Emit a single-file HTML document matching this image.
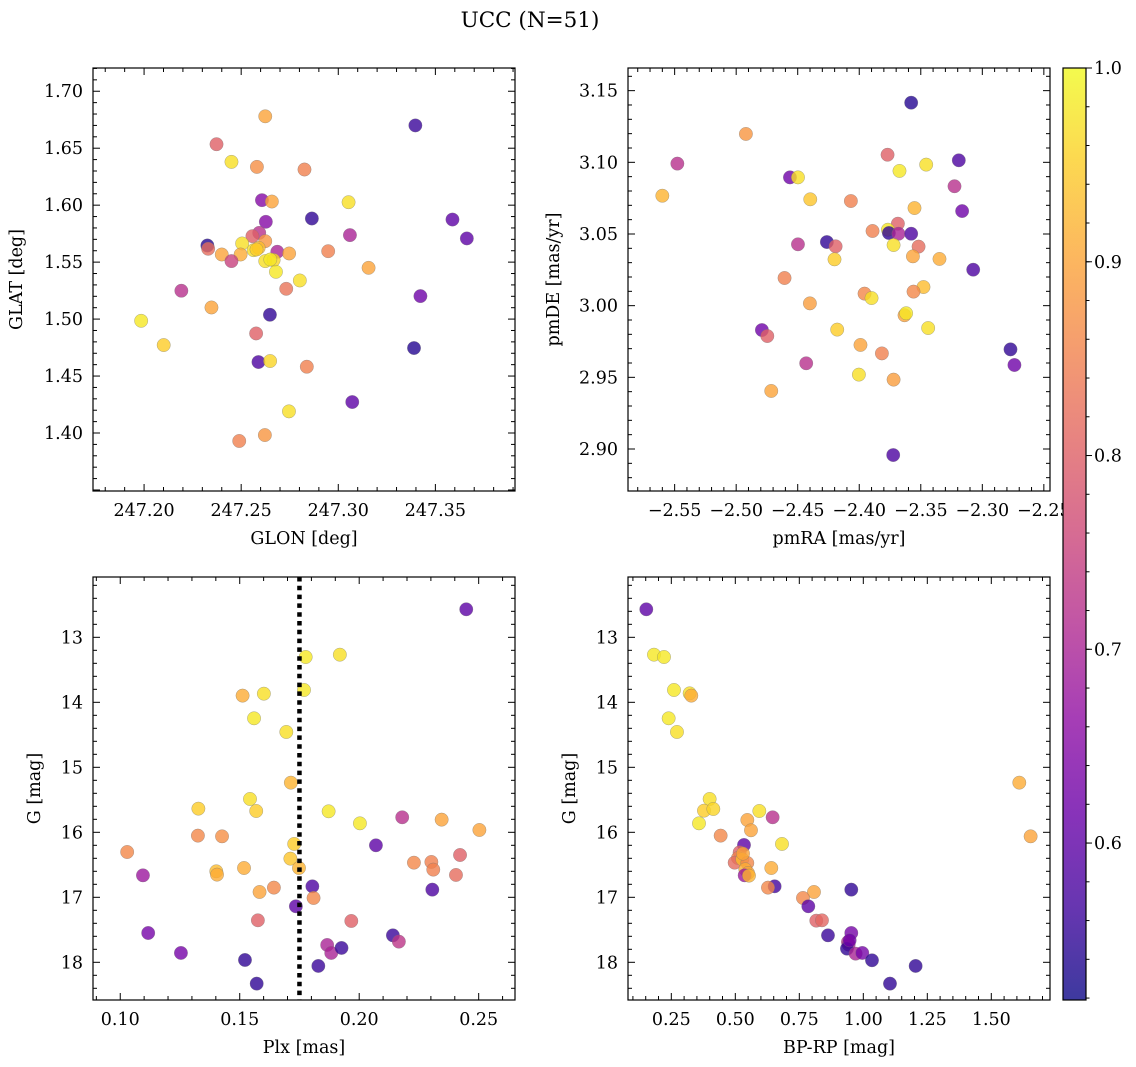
<!DOCTYPE html>
<html><head><meta charset="utf-8"><style>
html,body{margin:0;padding:0;background:#fff;}
svg{display:block;font-family:"DejaVu Serif","Liberation Serif",serif;}
</style></head><body>
<svg id="fig" width="1136" height="1067" viewBox="0 0 1136 1067" xmlns="http://www.w3.org/2000/svg">
<rect width="1136" height="1067" fill="#fff"/>
<text x="530" y="27" font-size="21.5" text-anchor="middle">UCC (N=51)</text>
</svg>
<script>
// Panel 1: GLON vs GLAT
const glon = [247.2624,247.3397,247.2373,247.2450,247.2581,247.2826,247.2607,247.2658,247.3053,247.2864,247.3588,247.2627,247.3662,247.3060,247.2326,247.2330,247.2593,247.2558,247.2624,247.2505,247.2564,247.2590,247.2686,247.2747,247.2400,247.2497,247.2450,247.2624,247.2667,247.2679,247.2948,247.3156,247.2802,247.2732,247.2192,247.3423,247.2347,247.2648,247.1985,247.2577,247.2101,247.3390,247.2589,247.2649,247.2838,247.3072,247.2746,247.2622,247.2490,247.2579,247.2650];
const glat = [1.678,1.670,1.6535,1.638,1.6336,1.6313,1.6044,1.6032,1.6026,1.5883,1.5874,1.5854,1.5708,1.5737,1.5646,1.5617,1.5757,1.5728,1.5684,1.5664,1.5605,1.5626,1.5591,1.5576,1.5567,1.5567,1.5509,1.5509,1.5518,1.5415,1.5596,1.545,1.5339,1.5266,1.5249,1.5202,1.5102,1.5038,1.4985,1.4874,1.4772,1.4746,1.4623,1.4632,1.4582,1.4272,1.419,1.3982,1.393,1.5611,1.5523];
const prob1 = [0.9,0.56,0.8,0.97,0.87,0.85,0.65,0.9,0.97,0.55,0.6,0.65,0.6,0.7,0.54,0.82,0.72,0.8,0.88,0.97,0.97,0.93,0.7,0.9,0.9,0.91,0.75,0.97,0.96,0.98,0.85,0.9,0.97,0.83,0.72,0.62,0.9,0.55,0.98,0.8,0.95,0.54,0.58,0.96,0.85,0.6,0.97,0.88,0.85,0.95,0.98];
// Panel 2: pmRA vs pmDE
const pmra = [-2.3578,-2.4921,-2.5478,-2.377,-2.3456,-2.3673,-2.3191,-2.4563,-2.4498,-2.3226,-2.56,-2.4398,-2.4068,-2.3551,-2.3164,-2.3686,-2.3892,-2.3767,-2.3759,-2.3681,-2.3578,-2.4263,-2.4192,-2.4498,-2.3721,-2.3518,-2.4201,-2.3564,-2.3348,-2.3074,-2.4607,-2.3478,-2.3559,-2.3957,-2.39,-2.4401,-2.3632,-2.3619,-2.4791,-2.4747,-2.4179,-2.344,-2.399,-2.3816,-2.2771,-2.2739,-2.4431,-2.4003,-2.3721,-2.4715,-2.3724];
const pmde = [3.1416,3.1198,3.0991,3.1053,3.0984,3.094,3.1014,3.0895,3.0895,3.0833,3.0767,3.0742,3.073,3.0681,3.066,3.0572,3.0521,3.053,3.0507,3.0502,3.0502,3.0444,3.0414,3.0428,3.0423,3.0412,3.0323,3.0344,3.0326,3.0251,3.0193,3.013,3.0098,3.0084,3.0053,3.0016,2.9933,2.9947,2.983,2.9788,2.9833,2.9844,2.9726,2.9667,2.9695,2.9586,2.9598,2.9519,2.9484,2.9405,2.8958];
const prob2 = [0.54,0.88,0.72,0.8,0.97,0.98,0.58,0.62,0.97,0.72,0.92,0.94,0.85,0.92,0.62,0.8,0.85,0.98,0.55,0.7,0.58,0.55,0.8,0.72,0.97,0.82,0.95,0.9,0.91,0.58,0.85,0.93,0.86,0.86,0.97,0.89,0.9,0.98,0.62,0.8,0.95,0.97,0.9,0.85,0.55,0.62,0.72,0.97,0.89,0.9,0.58];
// Panel 3: Plx vs G
const plx = [0.2448,0.1776,0.1919,0.1512,0.1601,0.1769,0.156,0.1695,0.1714,0.1543,0.1327,0.1569,0.1872,0.2003,0.218,0.2345,0.2503,0.1325,0.1426,0.207,0.1029,0.1728,0.2422,0.1712,0.2229,0.2302,0.231,0.1518,0.1748,0.1402,0.1405,0.1095,0.2405,0.1643,0.1583,0.1804,0.2306,0.1809,0.1735,0.1576,0.1967,0.1117,0.2141,0.2166,0.1254,0.1866,0.1883,0.1926,0.1522,0.1829,0.1571];
const gmag3 = [12.569,13.303,13.267,13.897,13.867,13.81,14.246,14.456,15.236,15.487,15.636,15.672,15.677,15.862,15.769,15.805,15.964,16.051,16.062,16.2,16.303,16.179,16.349,16.405,16.467,16.456,16.574,16.549,16.549,16.6,16.651,16.662,16.656,16.851,16.918,16.831,16.882,17.01,17.138,17.354,17.364,17.549,17.585,17.682,17.856,17.733,17.856,17.779,17.964,18.056,18.328];
const prob3 = [0.6,0.98,0.97,0.91,0.97,0.98,0.98,0.97,0.92,0.97,0.95,0.95,0.98,0.98,0.72,0.9,0.9,0.86,0.87,0.6,0.86,0.95,0.8,0.94,0.86,0.85,0.85,0.91,0.92,0.93,0.91,0.68,0.82,0.86,0.9,0.58,0.58,0.86,0.6,0.8,0.8,0.63,0.56,0.73,0.63,0.7,0.7,0.56,0.55,0.56,0.55];
const plxLine = 0.175;
// Panel 4: BP-RP vs G
const bprp = [0.1523,0.1823,0.2214,0.2604,0.3216,0.3281,0.2396,0.2721,1.6094,0.3997,0.3776,0.4141,0.5938,0.6458,0.3581,0.5469,0.5612,0.4427,1.6536,0.6823,0.5339,0.5169,0.5104,0.4974,0.5273,0.5469,0.6406,0.5391,0.5495,0.5365,0.5534,0.6536,0.6276,0.9531,0.8073,0.7643,0.7852,0.8164,0.8385,0.862,0.9531,0.9401,0.9427,0.9362,0.97,0.9961,1.0339,1.2044,1.1042,0.5299,0.9466];
const gmag4 = [12.569,13.267,13.303,13.81,13.862,13.897,14.246,14.456,15.236,15.487,15.667,15.641,15.672,15.769,15.862,15.81,15.969,16.051,16.062,16.179,16.195,16.308,16.395,16.467,16.415,16.472,16.549,16.569,16.626,16.662,16.667,16.831,16.851,16.882,16.918,17.01,17.138,17.359,17.354,17.585,17.549,17.687,17.728,17.79,17.867,17.856,17.969,18.056,18.328,16.328,17.662];
const prob4 = [0.6,0.98,0.98,0.98,0.97,0.91,0.98,0.97,0.91,0.97,0.95,0.96,0.97,0.72,0.98,0.9,0.9,0.86,0.9,0.97,0.6,0.8,0.85,0.82,0.93,0.86,0.91,0.91,0.9,0.68,0.92,0.57,0.86,0.55,0.9,0.86,0.6,0.8,0.81,0.56,0.63,0.72,0.7,0.55,0.7,0.63,0.55,0.55,0.55,0.9,0.62];
// Tick labels
const ticks1x = [247.20,247.25,247.30,247.35];
const ticks1y = [1.40,1.45,1.50,1.55,1.60,1.65,1.70];
const ticks2x = [-2.55,-2.50,-2.45,-2.40,-2.35,-2.30,-2.25];
const ticks2y = [2.90,2.95,3.00,3.05,3.10,3.15];
const ticks3x = [0.10,0.15,0.20,0.25];
const ticksG = [13,14,15,16,17,18];
const ticks4x = [0.25,0.50,0.75,1.00,1.25,1.50];
const ticksCb = [0.6,0.7,0.8,0.9,1.0];
const cbMin = 0.519, cbMax = 1.0;

const NS = "http://www.w3.org/2000/svg";
const svg = document.getElementById('fig');
const TFS = 17.5, LFS = 17.5;
function mk(tag, attrs, parent){const e=document.createElementNS(NS,tag);for(const k in attrs)e.setAttribute(k,attrs[k]);(parent||svg).appendChild(e);return e;}
const plasma=[[13,8,135],[65,4,157],[106,0,168],[143,13,164],[177,42,144],[204,71,120],[225,100,98],[242,132,75],[252,166,54],[252,206,37],[240,249,33]];
function cmap(p){let t=(p-cbMin)/(cbMax-cbMin);t=Math.max(0,Math.min(1,t));const f=t*10,i=Math.min(9,Math.floor(f)),r=f-i;const a=plasma[i],b=plasma[i+1];return 'rgb('+a.map((v,k)=>Math.round(v+(b[k]-v)*r)).join(',')+')';}
function fmt(v,d){return (v<0?'\u2212':'')+Math.abs(v).toFixed(d);}

function panel(o){
  const g=mk('g',{});
  
  
  const sx=v=>o.x0+(v-o.xr[0])/(o.xr[1]-o.xr[0])*(o.x1-o.x0);
  const sy=v=>o.inv? o.y0+(v-o.yr[0])/(o.yr[1]-o.yr[0])*(o.y1-o.y0) : o.y1-(v-o.yr[0])/(o.yr[1]-o.yr[0])*(o.y1-o.y0);
  const pg=mk('g',{},g);
  for(let i=0;i<o.xs.length;i++){
    const c=mk('circle',{cx:sx(o.xs[i]),cy:sy(o.ys[i]),r:6.7,fill:cmap(o.ps[i]),'fill-opacity':0.8,stroke:'#777','stroke-opacity':0.6,'stroke-width':0.5},pg);
    
    
  }
  if(o.vline!==undefined){
    const l=mk('line',{x1:sx(o.vline),x2:sx(o.vline),y1:o.y0,y2:o.y1,stroke:'#000','stroke-width':4.5,'stroke-dasharray':'4.5 4.3'},g);
    
    
  }
  const tg=mk('g',{stroke:'#000','stroke-width':1},g);
  const xstep=(o.xt[1]-o.xt[0])/5, ystep=(o.yt[1]-o.yt[0])/5;
  for(let k=-10;k<=(o.xt.length+10)*5;k++){
    const v=o.xt[0]+k*xstep,X=sx(v);if(X<o.x0-0.1||X>o.x1+0.1)continue;
    const L=(k%5===0)?7:4;
    mk('line',{x1:X,x2:X,y1:o.y1,y2:o.y1-L},tg);mk('line',{x1:X,x2:X,y1:o.y0,y2:o.y0+L},tg);
  }
  for(let k=-10;k<=(o.yt.length+10)*5;k++){
    const v=o.yt[0]+k*ystep,Y=sy(v);if(Y<o.y0-0.1||Y>o.y1+0.1)continue;
    const L=(k%5===0)?7:4;
    mk('line',{x1:o.x0,x2:o.x0+L,y1:Y,y2:Y},tg);mk('line',{x1:o.x1,x2:o.x1-L,y1:Y,y2:Y},tg);
  }
  o.xt.forEach(v=>{const t=mk('text',{x:sx(v),y:o.y1+25,'font-size':TFS,'text-anchor':'middle'},g);t.textContent=fmt(v,o.xd);});
  o.yt.forEach(v=>{const t=mk('text',{x:o.x0-10,y:sy(v)+6,'font-size':TFS,'text-anchor':'end'},g);t.textContent=fmt(v,o.yd);});
  const xl=mk('text',{x:(o.x0+o.x1)/2,y:o.y1+53,'font-size':LFS,'text-anchor':'middle'},g);xl.textContent=o.xlab;
  
  const yc=(o.y0+o.y1)/2;
  const yl=mk('text',{x:o.ylx,y:yc,'font-size':LFS,'text-anchor':'middle',transform:'rotate(-90 '+o.ylx+' '+yc+')'},g);yl.textContent=o.ylab;
  
  const fr=mk('rect',{x:o.x0,y:o.y0,width:o.x1-o.x0,height:o.y1-o.y0,fill:'none',stroke:'#000','stroke-width':1.2},g);
  
}
panel({name:'glon-glat-panel',x0:93,x1:515,y0:68,y1:491,xr:[247.1737,247.391],yr:[1.3491,1.7204],xs:glon,ys:glat,ps:prob1,xt:ticks1x,yt:ticks1y,xd:2,yd:2,xlab:'GLON [deg]',ylab:'GLAT [deg]',ylx:22});
panel({name:'pm-panel',x0:628,x1:1050,y0:68,y1:491,xr:[-2.5879,-2.245],yr:[2.8707,3.1658],xs:pmra,ys:pmde,ps:prob2,xt:ticks2x,yt:ticks2y,xd:2,yd:2,xlab:'pmRA [mas/yr]',ylab:'pmDE [mas/yr]',ylx:559});
panel({name:'plx-g-panel',x0:93,x1:515,y0:577,y1:1000,xr:[0.0886,0.2652],yr:[12.072,18.58],inv:true,xs:plx,ys:gmag3,ps:prob3,xt:ticks3x,yt:ticksG,xd:2,yd:0,xlab:'Plx [mas]',ylab:'G [mag]',ylx:40,vline:plxLine});
panel({name:'cmd-panel',x0:628,x1:1050,y0:577,y1:1000,xr:[0.0808,1.7293],yr:[12.072,18.58],inv:true,xs:bprp,ys:gmag4,ps:prob4,xt:ticks4x,yt:ticksG,xd:2,yd:0,xlab:'BP-RP [mag]',ylab:'G [mag]',ylx:575});

// colorbar
const cb=mk('g',{});


const defs=mk('defs',{},cb);
const lg=mk('linearGradient',{id:'cbg',x1:0,y1:1,x2:0,y2:0},defs);
for(let i=0;i<=20;i++){const p=cbMin+(cbMax-cbMin)*i/20;mk('stop',{offset:(i/20),'stop-color':cmap(p)},lg);}
const cx0=1063,cx1=1086,cy0=68,cy1=1000;
mk('rect',{x:cx0,y:cy0,width:cx1-cx0,height:cy1-cy0,fill:'#fff'},cb);
mk('rect',{x:cx0,y:cy0,width:cx1-cx0,height:cy1-cy0,fill:'url(#cbg)','fill-opacity':0.8},cb);
mk('rect',{x:cx0,y:cy0,width:cx1-cx0,height:cy1-cy0,fill:'none',stroke:'#000','stroke-width':1.2},cb);
const cby=v=>cy1-(v-cbMin)/(cbMax-cbMin)*(cy1-cy0);
for(let v=0.52;v<=1.0001;v+=0.02){const Y=cby(v);mk('line',{x1:cx1,x2:cx1+3.5,y1:Y,y2:Y,stroke:'#000','stroke-width':1},cb);}
ticksCb.forEach(v=>{const Y=cby(v);mk('line',{x1:cx1,x2:cx1+6,y1:Y,y2:Y,stroke:'#000','stroke-width':1},cb);
  const t=mk('text',{x:cx1+8,y:Y+6,'font-size':TFS},cb);t.textContent=v.toFixed(1);
  });
</script>
</body></html>
